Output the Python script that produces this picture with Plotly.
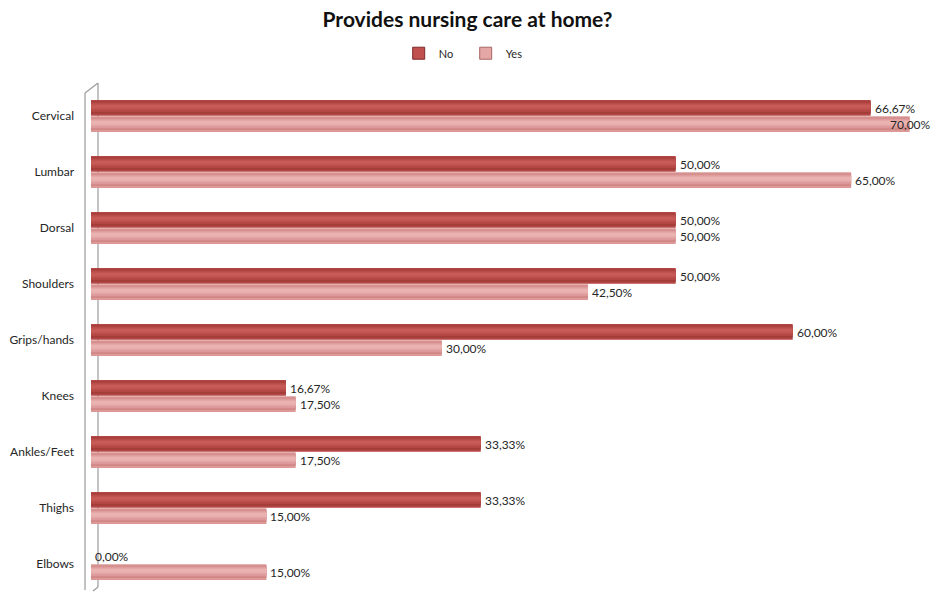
import plotly.graph_objects as go

# Survey data: share of each body region, split by whether the respondent provides nursing care at home
regions = ["Cervical", "Lumbar", "Dorsal", "Shoulders", "Grips/hands",
           "Knees", "Ankles/Feet", "Thighs", "Elbows"]
no_values = [66.67, 50.00, 50.00, 50.00, 60.00, 16.67, 33.33, 33.33, 0.00]
yes_values = [70.00, 65.00, 50.00, 42.50, 30.00, 17.50, 17.50, 15.00, 15.00]
series_names = ["No", "Yes"]


def pct_label(v):
    return f"{v:.2f}".replace(".", ",") + "%"


X_MAX = 72
BAR_W = 0.28
FONT = "Lato, 'Open Sans', sans-serif"

# nested bands (start fraction, width fraction) from outer edge to highlight,
# stacked to give each bar a rounded, cylinder-like shading
BANDS = [(0.0, 1.0), (0.07, 0.80), (0.14, 0.62), (0.22, 0.42), (0.30, 0.22)]

series = [
    # values, offset from category centre, band colours (outer -> inner)
    (no_values, -BAR_W - 0.005,
     ["#7A2927", "#A33D3A", "#B44744", "#BF504D", "#C65A57"]),
    (yes_values, 0.005,
     ["#A66766", "#D08786", "#DC9998", "#E4A7A6", "#EAB3B2"]),
]

fig = go.Figure()
for name, (vals, off, cols) in zip(series_names, series):
    for i, ((start, frac), col) in enumerate(zip(BANDS, cols)):
        fig.add_trace(go.Bar(
            name=name, y=regions, x=vals, orientation="h",
            offset=off + BAR_W * start, width=BAR_W * frac,
            marker=dict(color=col if i else cols[2], line=dict(width=0)),
            showlegend=False, hoverinfo="skip" if i else None,
        ))
    # legend entry in the series' main colour
    fig.add_trace(go.Bar(name=name, y=[None], x=[None], orientation="h",
                         marker=dict(color=cols[3], line=dict(color=cols[0], width=1))))

# value labels just past each bar end; labels that would run off the right
# edge are pulled back to end at the edge of the plot
annotations = []
for vals, shift in ((no_values, -8), (yes_values, 8)):
    for region, v in zip(regions, vals):
        overflow = v + 3.8 > X_MAX
        annotations.append(dict(
            x=X_MAX if overflow else v, y=region, xref="x", yref="y",
            text=pct_label(v), showarrow=False,
            xanchor="right" if overflow else "left", xshift=0 if overflow else 2,
            yshift=-shift, yanchor="middle",
            font=dict(family=FONT, size=12, color="#262626"),
        ))

# perspective side wall on the left edge of the plot
wall = [
    dict(x0=-0.0071, y0=0.99, x1=-0.0071, y1=0.004),
    dict(x0=0.0083, y0=1.01, x1=0.0083, y1=0.01),
    dict(x0=0.0083, y0=1.01, x1=-0.0071, y1=0.99),
    dict(x0=0.0083, y0=0.01, x1=0.0024, y1=0.002),
]
shapes = [dict(type="line", xref="paper", yref="paper", layer="below",
               line=dict(color="#9A9A9A", width=1.2), **w) for w in wall]

fig.update_layout(
    width=935, height=592,
    margin=dict(l=91, r=2, t=88, b=0),
    paper_bgcolor="white", plot_bgcolor="white",
    barmode="overlay",
    font=dict(family=FONT, color="#262626"),
    title=dict(text="<b>Provides nursing care at home?</b>",
               x=0.5, xref="container", xanchor="center",
               y=0.966, yref="container", yanchor="middle",
               font=dict(family=FONT, size=21, color="#111111")),
    legend=dict(orientation="h", x=0.445, xanchor="center",
                y=1.069, yanchor="middle",
                font=dict(family=FONT, size=11, color="#262626"),
                itemwidth=30, entrywidth=22, entrywidthmode="pixels",
                tracegroupgap=0, traceorder="normal"),
    annotations=annotations,
    shapes=shapes,
    showlegend=True,
)
fig.update_xaxes(range=[0, X_MAX], visible=False)
fig.update_yaxes(categoryorder="array", categoryarray=regions,
                 range=[8.5, -0.5], showgrid=False, zeroline=False,
                 showline=False, ticks="", ticklabelstandoff=16,
                 tickfont=dict(family=FONT, size=12, color="#262626"))

fig.write_html("out.html")
